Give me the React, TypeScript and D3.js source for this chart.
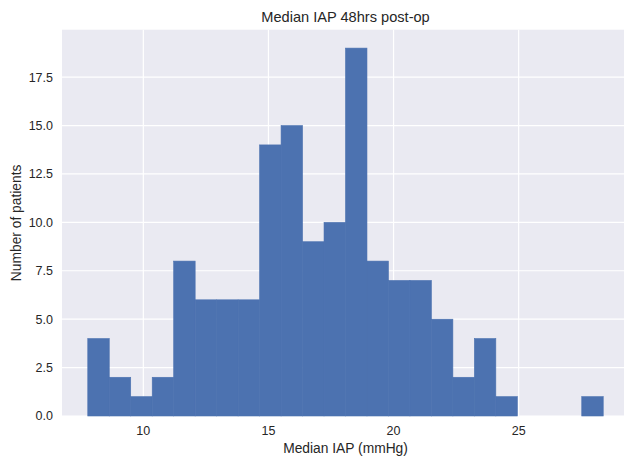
import React from "react";
import * as d3 from "d3";

const binStart = 7.78;
const binWidth = 0.8583;
const counts = [4, 2, 1, 2, 8, 6, 6, 6, 14, 15, 9, 10, 19, 8, 7, 7, 5, 2, 4, 1, 0, 0, 0, 1];
const xTicks = [10, 15, 20, 25];
const yTicks = [0, 2.5, 5, 7.5, 10, 12.5, 15, 17.5];
const title = "Median IAP 48hrs post-op";
const xLabel = "Median IAP (mmHg)";
const yLabel = "Number of patients";

export default function App() {
  const W = 624, H = 459;
  const left = 62, right = 629, top = 29.7, bottom = 416;
  const x0 = binStart;
  const x1 = binStart + binWidth * counts.length;
  const pad = (x1 - x0) * 0.05;
  const x = d3.scaleLinear().domain([x0 - pad, x1 + pad]).range([left, right]);
  const ymax = (d3.max(counts) as number) * 1.05;
  const y = d3.scaleLinear().domain([0, ymax]).range([bottom, top]);
  const font = "'Liberation Sans', Arial, sans-serif";
  const textColor = "#262626";
  return (
    <svg width={W} height={H} style={{ position: "absolute", left: 0, top: 0 }}>
      <rect x={0} y={0} width={W} height={H} fill="#ffffff" />
      <rect x={left} y={top} width={right - left} height={bottom - top} fill="#eaeaf2" />
      {yTicks.map((t) => (
        <line key={"gy" + t} x1={left} x2={right} y1={y(t)} y2={y(t)} stroke="#ffffff" strokeWidth={1.2} />
      ))}
      {xTicks.map((t) => (
        <line key={"gx" + t} x1={x(t)} x2={x(t)} y1={top} y2={bottom} stroke="#ffffff" strokeWidth={1.2} />
      ))}
      {counts.map((c, i) =>
        c > 0 ? (
          <rect
            key={"b" + i}
            x={x(binStart + i * binWidth)}
            width={x(binStart + (i + 1) * binWidth) - x(binStart + i * binWidth)}
            y={y(c)}
            height={y(0) - y(c)}
            fill="#4c72b0"
            stroke="#4c72b0"
            strokeWidth={0.6}
          />
        ) : null
      )}
      {yTicks.map((t) => (
        <text key={"ty" + t} x={53} y={y(t)} dy="0.35em" textAnchor="end" fontFamily={font} fontSize={12.5} fill={textColor}>
          {t.toFixed(1)}
        </text>
      ))}
      {xTicks.map((t) => (
        <text key={"tx" + t} x={x(t)} y={435} textAnchor="middle" fontFamily={font} fontSize={12.5} fill={textColor}>
          {t}
        </text>
      ))}
      <text x={(left + right) / 2} y={22} textAnchor="middle" fontFamily={font} fontSize={14.6} fill={textColor}>
        {title}
      </text>
      <text x={(left + right) / 2} y={453} textAnchor="middle" fontFamily={font} fontSize={13.8} fill={textColor}>
        {xLabel}
      </text>
      <text
        transform={`translate(21,${(top + bottom) / 2}) rotate(-90)`}
        textAnchor="middle"
        fontFamily={font}
        fontSize={13.8}
        fill={textColor}
      >
        {yLabel}
      </text>
    </svg>
  );
}
